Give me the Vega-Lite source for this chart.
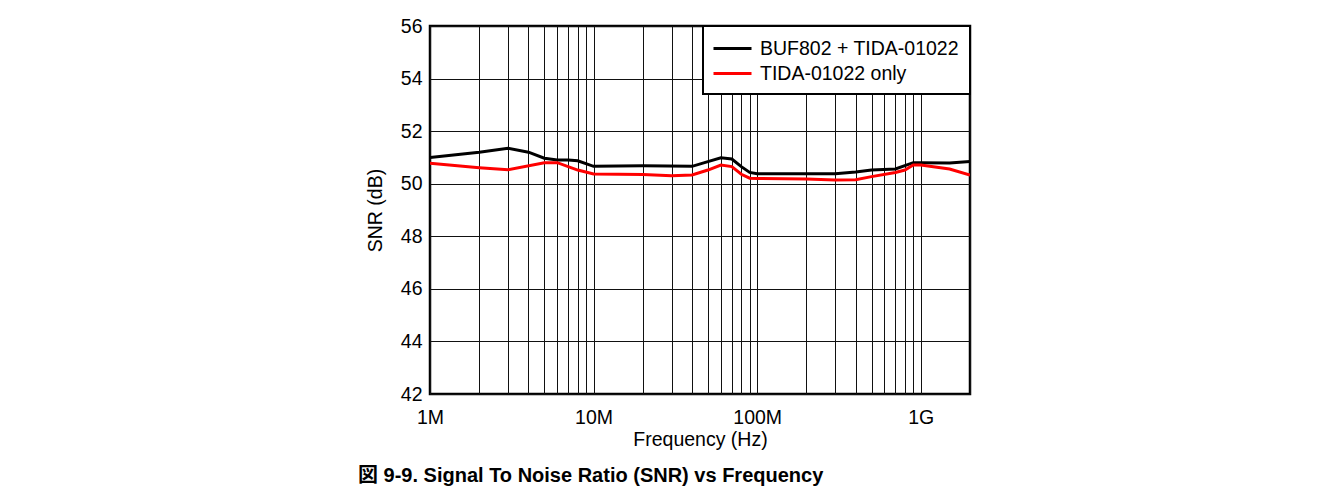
{
  "$schema": "https://vega.github.io/schema/vega-lite/v6.json",
  "autosize": "none",
  "width": 540,
  "height": 368,
  "padding": {"left": 430, "top": 26, "right": 361, "bottom": 104},
  "background": "white",
  "config": {
    "font": "Liberation Sans",
    "view": {"stroke": "#000000", "strokeWidth": 2.5},
    "legend": {"strokeWidth": 2},
    "axis": {"gridColor": "#111111", "gridWidth": 1, "gridOpacity": 1, "ticks": false, "domain": false, "labelFont": "Liberation Sans", "labelFontSize": 19.5, "labelColor": "#000000", "titleFont": "Liberation Sans", "titleFontSize": 19.5, "titleFontWeight": "normal", "titleColor": "#000000"}
  },
  "title": {
    "text": "図 9-9. Signal To Noise Ratio (SNR) vs Frequency",
    "orient": "bottom",
    "anchor": "start",
    "frame": "group",
    "dx": -72,
    "offset": 17,
    "font": "Liberation Sans, Noto Sans CJK JP",
    "fontSize": 20,
    "fontWeight": "bold",
    "color": "#000000"
  },
  "data": {
    "values": [
      {"f": 1000000, "snr": 51.0, "series": "BUF802 + TIDA-01022"},
      {"f": 2000000, "snr": 51.2, "series": "BUF802 + TIDA-01022"},
      {"f": 3000000, "snr": 51.35, "series": "BUF802 + TIDA-01022"},
      {"f": 4000000, "snr": 51.2, "series": "BUF802 + TIDA-01022"},
      {"f": 5000000, "snr": 50.97, "series": "BUF802 + TIDA-01022"},
      {"f": 6000000, "snr": 50.9, "series": "BUF802 + TIDA-01022"},
      {"f": 7000000, "snr": 50.9, "series": "BUF802 + TIDA-01022"},
      {"f": 8000000, "snr": 50.87, "series": "BUF802 + TIDA-01022"},
      {"f": 10000000, "snr": 50.66, "series": "BUF802 + TIDA-01022"},
      {"f": 20000000, "snr": 50.68, "series": "BUF802 + TIDA-01022"},
      {"f": 40000000, "snr": 50.66, "series": "BUF802 + TIDA-01022"},
      {"f": 50000000, "snr": 50.84, "series": "BUF802 + TIDA-01022"},
      {"f": 60000000, "snr": 50.99, "series": "BUF802 + TIDA-01022"},
      {"f": 70000000, "snr": 50.94, "series": "BUF802 + TIDA-01022"},
      {"f": 80000000, "snr": 50.65, "series": "BUF802 + TIDA-01022"},
      {"f": 90000000, "snr": 50.43, "series": "BUF802 + TIDA-01022"},
      {"f": 100000000, "snr": 50.38, "series": "BUF802 + TIDA-01022"},
      {"f": 200000000, "snr": 50.38, "series": "BUF802 + TIDA-01022"},
      {"f": 300000000, "snr": 50.38, "series": "BUF802 + TIDA-01022"},
      {"f": 400000000, "snr": 50.45, "series": "BUF802 + TIDA-01022"},
      {"f": 500000000, "snr": 50.52, "series": "BUF802 + TIDA-01022"},
      {"f": 700000000, "snr": 50.56, "series": "BUF802 + TIDA-01022"},
      {"f": 900000000, "snr": 50.8, "series": "BUF802 + TIDA-01022"},
      {"f": 1000000000, "snr": 50.8, "series": "BUF802 + TIDA-01022"},
      {"f": 1500000000, "snr": 50.79, "series": "BUF802 + TIDA-01022"},
      {"f": 2000000000, "snr": 50.85, "series": "BUF802 + TIDA-01022"},
      {"f": 1000000, "snr": 50.78, "series": "TIDA-01022 only"},
      {"f": 2000000, "snr": 50.61, "series": "TIDA-01022 only"},
      {"f": 3000000, "snr": 50.53, "series": "TIDA-01022 only"},
      {"f": 5000000, "snr": 50.8, "series": "TIDA-01022 only"},
      {"f": 6000000, "snr": 50.8, "series": "TIDA-01022 only"},
      {"f": 8000000, "snr": 50.52, "series": "TIDA-01022 only"},
      {"f": 10000000, "snr": 50.37, "series": "TIDA-01022 only"},
      {"f": 20000000, "snr": 50.35, "series": "TIDA-01022 only"},
      {"f": 30000000, "snr": 50.3, "series": "TIDA-01022 only"},
      {"f": 40000000, "snr": 50.33, "series": "TIDA-01022 only"},
      {"f": 50000000, "snr": 50.52, "series": "TIDA-01022 only"},
      {"f": 60000000, "snr": 50.71, "series": "TIDA-01022 only"},
      {"f": 70000000, "snr": 50.65, "series": "TIDA-01022 only"},
      {"f": 80000000, "snr": 50.36, "series": "TIDA-01022 only"},
      {"f": 90000000, "snr": 50.21, "series": "TIDA-01022 only"},
      {"f": 100000000, "snr": 50.2, "series": "TIDA-01022 only"},
      {"f": 200000000, "snr": 50.18, "series": "TIDA-01022 only"},
      {"f": 300000000, "snr": 50.14, "series": "TIDA-01022 only"},
      {"f": 400000000, "snr": 50.15, "series": "TIDA-01022 only"},
      {"f": 500000000, "snr": 50.27, "series": "TIDA-01022 only"},
      {"f": 700000000, "snr": 50.43, "series": "TIDA-01022 only"},
      {"f": 800000000, "snr": 50.52, "series": "TIDA-01022 only"},
      {"f": 900000000, "snr": 50.71, "series": "TIDA-01022 only"},
      {"f": 1000000000, "snr": 50.71, "series": "TIDA-01022 only"},
      {"f": 1500000000, "snr": 50.56, "series": "TIDA-01022 only"},
      {"f": 2000000000, "snr": 50.33, "series": "TIDA-01022 only"}
    ]
  },
  "mark": {"type": "line", "strokeWidth": 3, "clip": true},
  "encoding": {
    "x": {
      "field": "f",
      "type": "quantitative",
      "scale": {"type": "log", "domain": [1000000, 2000000000], "nice": false},
      "axis": {
        "title": "Frequency (Hz)",
        "values": [1000000, 2000000, 3000000, 4000000, 5000000, 6000000, 7000000, 8000000, 9000000, 10000000, 20000000, 30000000, 40000000, 50000000, 60000000, 70000000, 80000000, 90000000, 100000000, 200000000, 300000000, 400000000, 500000000, 600000000, 700000000, 800000000, 900000000, 1000000000, 2000000000],
        "labelExpr": "datum.value == 1000000 ? '1M' : datum.value == 10000000 ? '10M' : datum.value == 100000000 ? '100M' : datum.value == 1000000000 ? '1G' : ''",
        "labelFlush": false,
        "labelOverlap": false,
        "labelBound": false,
        "labelPadding": 14,
        "titlePadding": 4
      }
    },
    "y": {
      "field": "snr",
      "type": "quantitative",
      "scale": {"domain": [42, 56], "nice": false, "zero": false},
      "axis": {
        "title": "SNR (dB)",
        "values": [42, 44, 46, 48, 50, 52, 54, 56],
        "labelPadding": 8,
        "titlePadding": 15
      }
    },
    "color": {
      "field": "series",
      "type": "nominal",
      "scale": {"domain": ["BUF802 + TIDA-01022", "TIDA-01022 only"], "range": ["#000000", "#ff0000"]},
      "legend": {
        "title": null,
        "orient": "top-right",
        "offset": 0,
        "padding": 11,
        "rowPadding": 4,
        "fillColor": "white",
        "strokeColor": "#000000",
        "symbolType": "M-1.9,0H1.9",
        "symbolSize": 400,
        "symbolStrokeWidth": 3,
        "symbolOffset": 7,
        "labelOffset": 16,
        "labelFont": "Liberation Sans",
        "labelFontSize": 19.5,
        "labelColor": "#000000",
        "labelLimit": 400
      }
    }
  }
}
